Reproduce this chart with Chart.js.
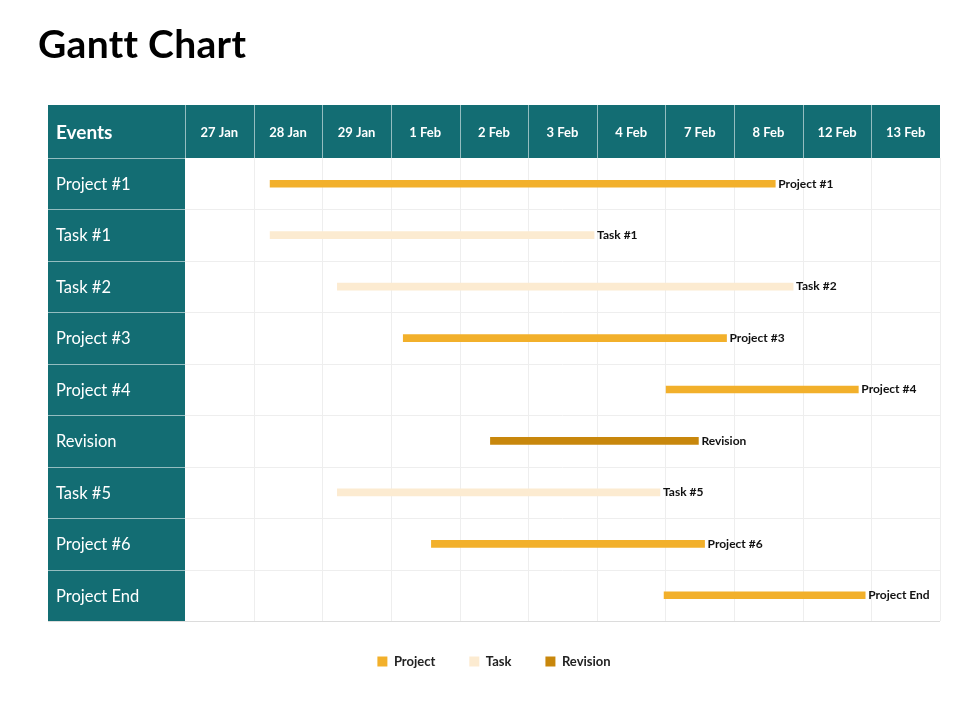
<!DOCTYPE html>
<html lang="en">
<head>
    <meta charset="UTF-8">
    <title>Gantt Chart</title>
    <script src="https://cdn.jsdelivr.net/npm/chart.js"></script>
    <style>
        body {
            margin: 0;
            background: #ffffff;
            font-family: Lato, sans-serif;
        }

        .page {
            position: relative;
            width: 960px;
            height: 720px;
        }

        h1 {
            position: absolute;
            z-index: 2;
            left: 38px;
            top: 20px;
            margin: 0;
            font-family: Lato, sans-serif;
            font-size: 39px;
            font-weight: bold;
            color: #000;
            line-height: 1.2;
            letter-spacing: 0.3px;
        }

        #gantt {
            position: absolute;
            left: 0;
            top: 0;
        }
    </style>
</head>
<body>
    <div class="page">
        <canvas id="gantt" width="960" height="720"></canvas>
        <h1>Gantt Chart</h1>
    </div>

    <script>
        // column headers (dates are not evenly spaced, so x runs in column units)
        const dates = ['27 Jan', '28 Jan', '29 Jan', '1 Feb', '2 Feb', '3 Feb', '4 Feb', '7 Feb', '8 Feb', '12 Feb', '13 Feb'];
        const events = ['Project #1', 'Task #1', 'Task #2', 'Project #3', 'Project #4', 'Revision', 'Task #5', 'Project #6', 'Project End'];
        const kinds = ['Project', 'Task', 'Task', 'Project', 'Project', 'Revision', 'Task', 'Project', 'Project'];
        const starts = [1.24, 1.24, 2.22, 3.18, 7.01, 4.45, 2.22, 3.59, 6.98];
        const ends = [8.60, 5.96, 8.86, 7.89, 9.81, 7.48, 6.92, 7.57, 9.91];

        const kindNames = ['Project', 'Task', 'Revision'];
        const kindColors = ['#F2B02B', '#FCEBD1', '#C8870C'];

        const TEAL = '#136D73';

        function seriesFor(kind) {
            return events.map((e, i) => kinds[i] === kind ? [starts[i], ends[i]] : null);
        }

        const tablePlugin = {
            id: 'table',
            beforeDraw(chart) {
                const ctx = chart.ctx;
                const area = chart.chartArea;
                const xs = chart.scales.x;
                const ys = chart.scales.y;
                const left = 48, headTop = 105;

                ctx.save();
                ctx.fillStyle = '#fff';
                ctx.fillRect(0, 0, chart.width, chart.height);

                // row edges
                const rowEdges = [area.top];
                for (let i = 0; i < events.length - 1; i++) {
                    rowEdges.push((ys.getPixelForValue(i) + ys.getPixelForValue(i + 1)) / 2);
                }
                rowEdges.push(area.bottom);

                // light grid in the body
                ctx.strokeStyle = '#EEEEEE';
                ctx.lineWidth = 1;
                for (let c = 1; c <= dates.length; c++) {
                    const x = Math.round(xs.getPixelForValue(c)) + 0.5;
                    ctx.beginPath();
                    ctx.moveTo(x, area.top);
                    ctx.lineTo(x, area.bottom);
                    ctx.stroke();
                }
                for (let r = 1; r < rowEdges.length; r++) {
                    const y = Math.round(rowEdges[r]) + 0.5;
                    ctx.beginPath();
                    ctx.moveTo(area.left, y);
                    ctx.lineTo(area.right, y);
                    ctx.stroke();
                }
                ctx.strokeStyle = '#DCDCDC';
                ctx.beginPath();
                ctx.moveTo(left, Math.round(area.bottom) + 0.5);
                ctx.lineTo(area.right, Math.round(area.bottom) + 0.5);
                ctx.stroke();

                // header band and events column
                ctx.fillStyle = TEAL;
                ctx.fillRect(left, headTop, area.right - left, area.top - headTop);
                ctx.fillRect(left, area.top, area.left - left, area.bottom - area.top);

                ctx.strokeStyle = 'rgba(255,255,255,0.55)';
                for (let c = 0; c < dates.length; c++) {
                    const x = Math.round(xs.getPixelForValue(c)) + 0.5;
                    ctx.beginPath();
                    ctx.moveTo(x, headTop);
                    ctx.lineTo(x, area.top);
                    ctx.stroke();
                }
                for (let r = 0; r < rowEdges.length - 1; r++) {
                    const y = Math.round(rowEdges[r]) + 0.5;
                    ctx.beginPath();
                    ctx.moveTo(left, y);
                    ctx.lineTo(area.left, y);
                    ctx.stroke();
                }

                // header texts
                ctx.fillStyle = '#fff';
                ctx.textBaseline = 'middle';
                const headMid = (headTop + area.top) / 2;
                ctx.font = 'bold 13px Lato, sans-serif';
                ctx.textAlign = 'center';
                dates.forEach((d, c) => {
                    ctx.fillText(d, xs.getPixelForValue(c + 0.5), headMid + 1);
                });
                ctx.textAlign = 'left';
                ctx.font = 'bold 19px Lato, sans-serif';
                ctx.fillText('Events', 56, headMid + 1);
                ctx.font = '16.5px Lato, sans-serif';
                events.forEach((e, i) => {
                    ctx.fillText(e, 56, ys.getPixelForValue(i) + 1);
                });
                ctx.restore();
            },
            afterDatasetsDraw(chart) {
                const ctx = chart.ctx;
                ctx.save();
                ctx.font = 'bold 12px Lato, sans-serif';
                ctx.fillStyle = '#111';
                ctx.textBaseline = 'middle';
                ctx.textAlign = 'left';
                chart.data.datasets.forEach((ds, d) => {
                    chart.getDatasetMeta(d).data.forEach((bar, i) => {
                        if (!ds.data[i]) return;
                        const endX = Math.max(bar.x, bar.base);
                        ctx.fillText(events[i], endX + 3, bar.y);
                    });
                });
                ctx.restore();
            }
        };

        new Chart(document.getElementById('gantt'), {
            type: 'bar',
            data: {
                labels: events,
                datasets: kindNames.map((k, n) => ({
                    label: k,
                    data: seriesFor(k),
                    backgroundColor: kindColors[n],
                    barThickness: 7,
                    borderSkipped: false,
                    grouped: false
                }))
            },
            options: {
                indexAxis: 'y',
                responsive: false,
                animation: false,
                layout: {
                    padding: { left: 48, right: 20, top: 158, bottom: 42 }
                },
                scales: {
                    x: { type: 'linear', min: 0, max: dates.length, display: false },
                    y: {
                        // keeps the events column width; its labels are painted by the plugin
                        ticks: { display: false },
                        grid: { display: false },
                        border: { display: false },
                        afterFit(scale) { scale.width = 137; }
                    }
                },
                plugins: {
                    tooltip: { enabled: false },
                    legend: {
                        position: 'bottom',
                        labels: {
                            boxWidth: 10,
                            boxHeight: 10,
                            padding: 34,
                            color: '#222',
                            font: { family: 'Lato, sans-serif', size: 13, weight: 'bold' }
                        }
                    }
                }
            },
            plugins: [tablePlugin]
        });
    </script>
</body>
</html>
